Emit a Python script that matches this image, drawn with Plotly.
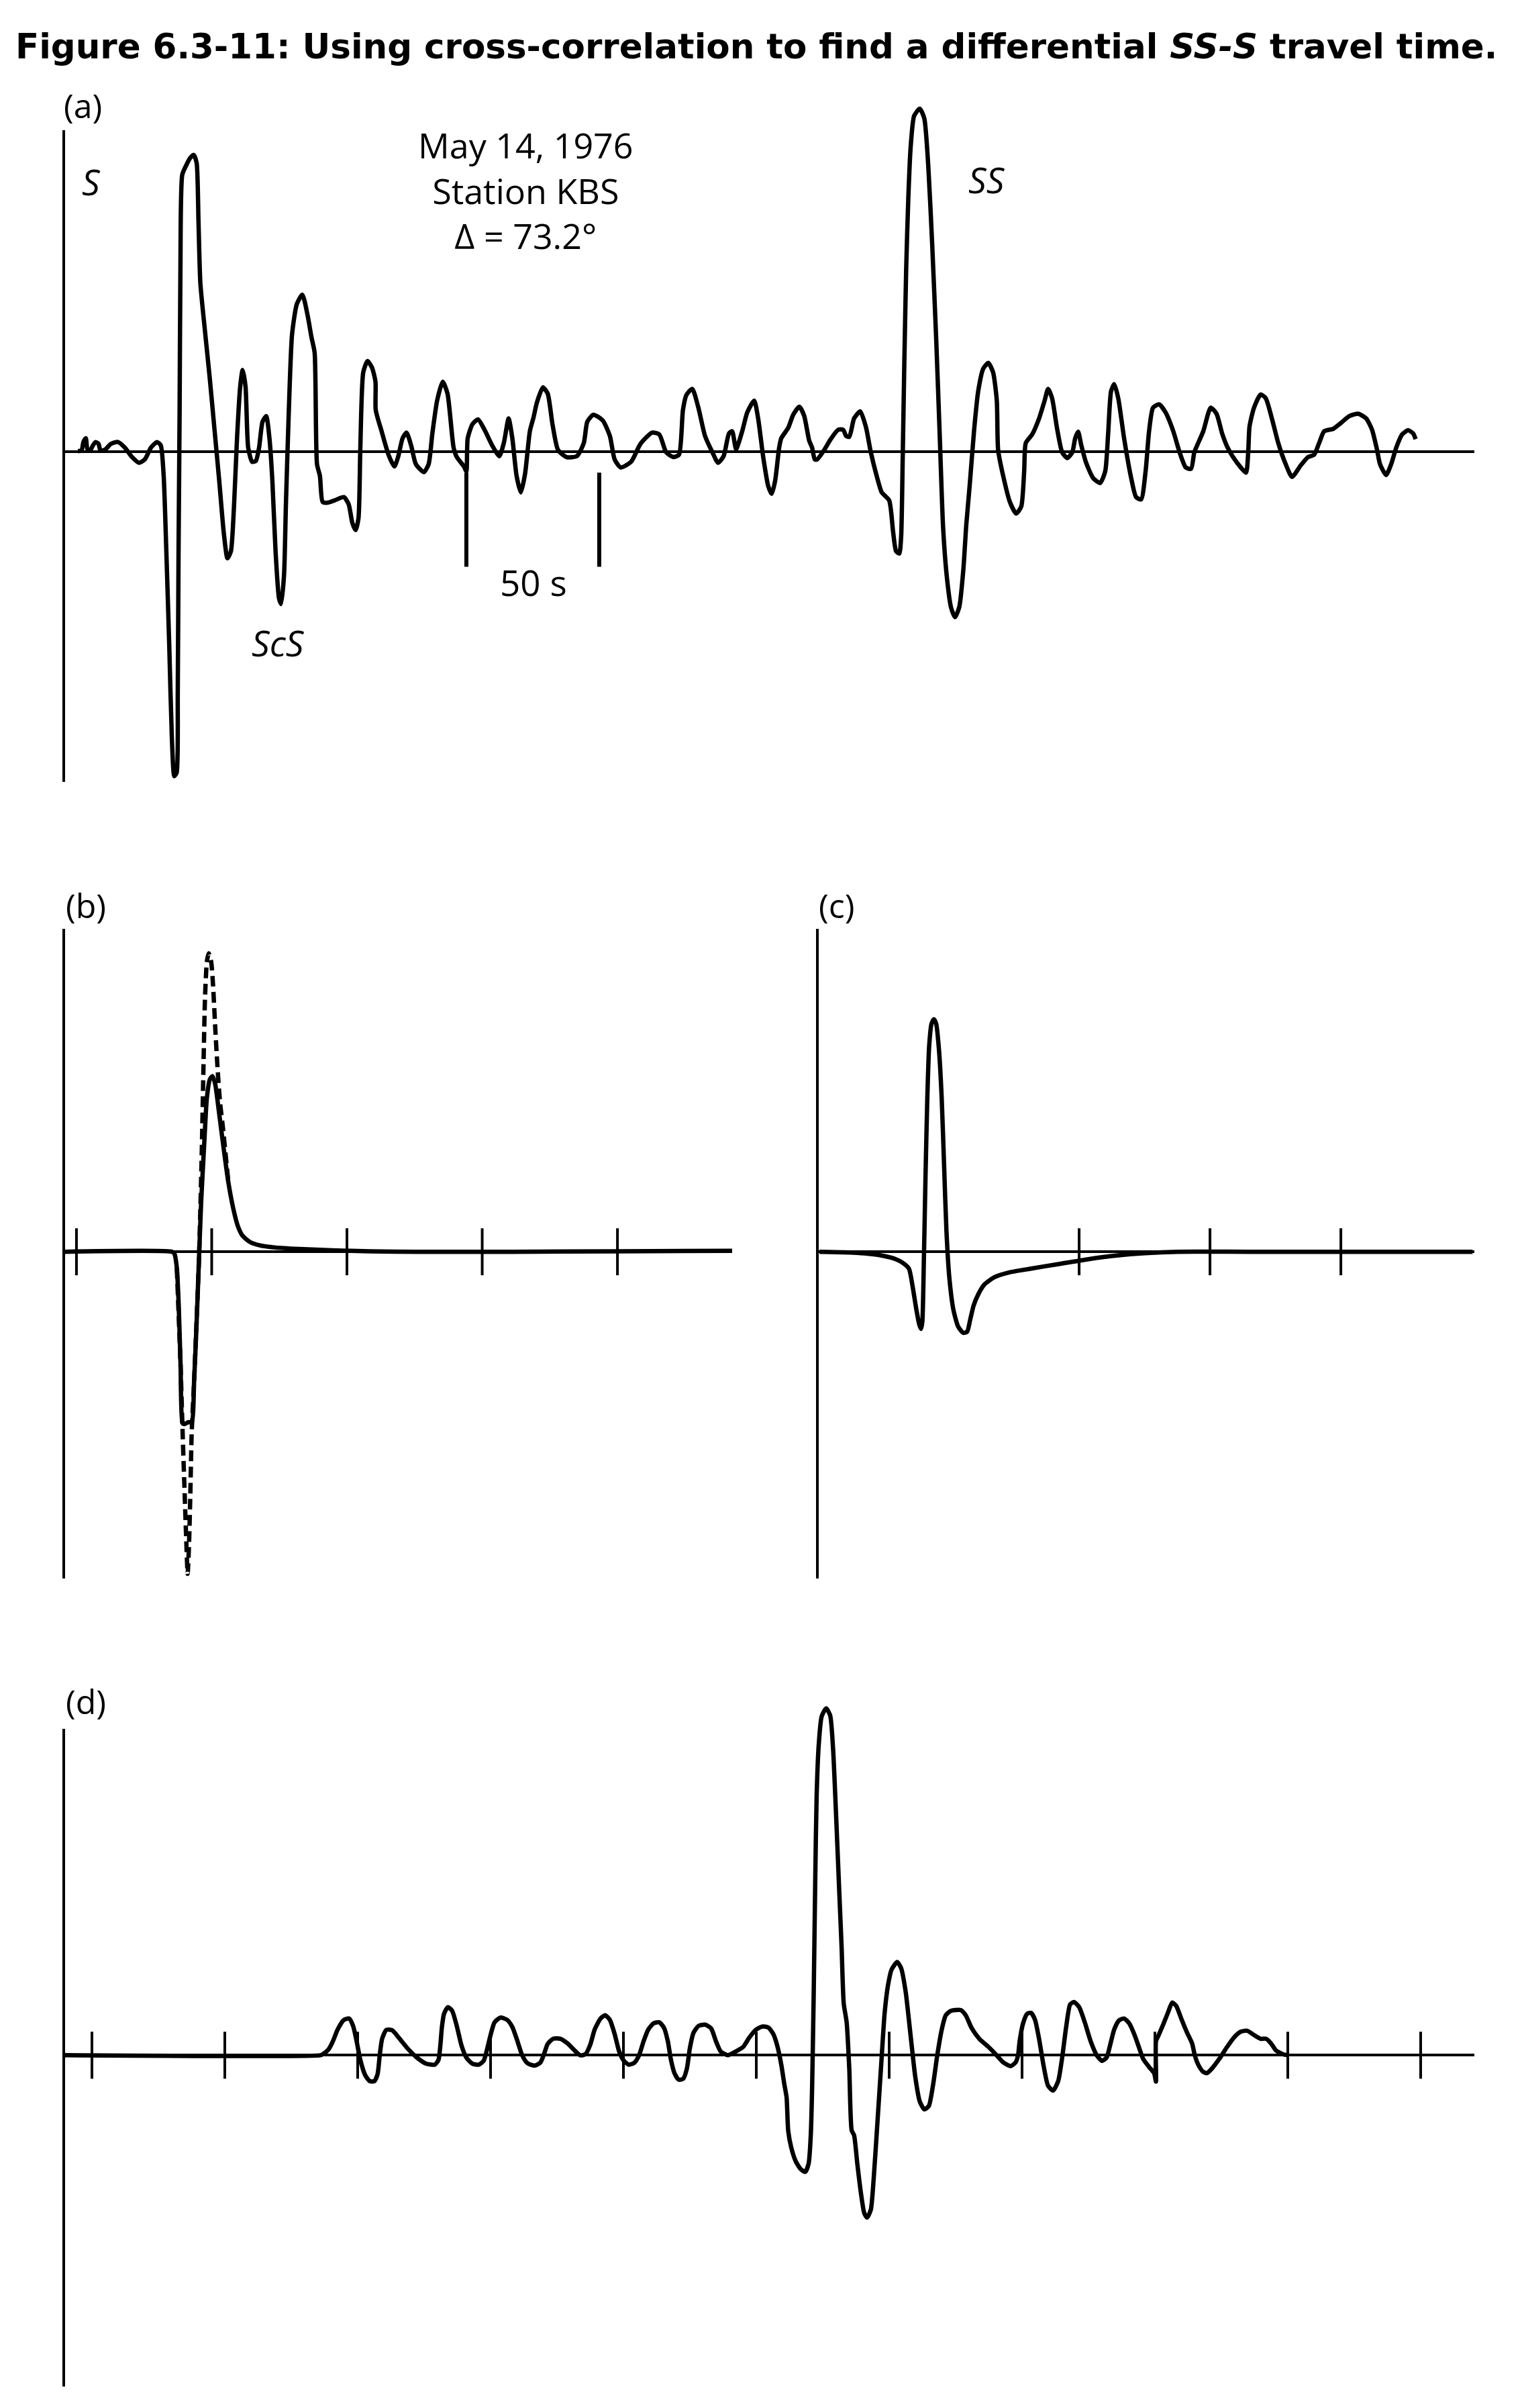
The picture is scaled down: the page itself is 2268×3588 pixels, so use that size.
import plotly.graph_objects as go

W, H = 2268, 3588

# ---------------- data (time in s, amplitude in arbitrary units) ----------------
# (a) transverse seismogram, S ... SS
a_time = [5.3, 6.7, 7.4, 8.3, 8.9, 9.9, 11.0, 12.0, 13.1, 13.8,
          15.6, 17.7, 20.4, 23.0, 25.7, 28.3, 30.5, 32.8, 35.1, 36.5,
          37.6, 38.6, 39.7, 40.7, 41.6, 42.5, 42.9, 43.2, 43.6, 43.9,
          44.6, 46.1, 47.5, 48.9, 50.0, 50.7, 51.4, 53.1, 54.9, 56.7,
          58.5, 60.2, 61.6, 62.9, 64.1, 65.2, 66.4, 67.3, 68.4, 69.4,
          70.9, 72.3, 73.5, 74.8, 76.2, 77.4, 78.5, 79.7, 81.0, 81.8,
          82.9, 83.6, 84.7, 85.9, 87.7, 89.8, 91.8, 93.2, 94.4, 95.3,
          96.4, 97.4, 99.2, 101.9, 105.4, 107.2, 108.6, 109.8, 110.9, 111.6,
          112.7, 114.3, 116.0, 117.3, 117.4, 119.6, 122.2, 124.4, 125.8, 127.5,
          129.0, 130.7, 132.5, 135.5, 137.3, 138.7, 140.5, 142.6, 144.4, 146.7,
          147.9, 150.6, 151.5, 152.0, 153.8, 155.9, 158.6, 161.2, 163.9, 165.6,
          167.4, 168.8, 170.4, 172.0, 173.6, 175.4, 176.8, 178.0, 180.3, 182.1,
          183.9, 186.0, 189.2, 193.1, 195.7, 197.0, 199.3, 202.8, 205.5, 207.3,
          209.6, 213.5, 217.0, 221.4, 224.1, 226.7, 229.4, 231.5, 233.0, 234.3,
          236.5, 238.8, 241.3, 244.1, 246.2, 248.3, 250.3, 251.5, 253.0,
          255.3, 257.2, 259.8, 261.3, 263.2, 265.1, 266.4, 267.7, 269.2, 270.0,
          272.6, 274.5, 276.8, 278.6, 280.5, 281.6, 282.6, 283.5, 285.8, 288.6,
          291.4, 293.3, 294.4, 295.6, 297.4, 299.7, 301.8, 303.7, 305.9, 307.8,
          310.6, 312.1, 313.2, 314.4, 315.1, 315.7, 316.3, 317.0, 317.8, 318.7,
          320.0, 322.1, 323.8, 325.3, 326.8, 328.3, 329.6, 330.9, 332.4, 333.9,
          335.4, 337.0, 338.5, 339.6, 340.9, 342.6, 344.1, 346.0, 347.9, 349.7,
          351.1, 351.6, 353.5, 356.0, 358.4, 360.3, 361.4, 362.0, 364.4, 367.0,
          369.1, 370.4, 371.9, 373.8, 375.7, 377.6, 379.5, 380.6, 381.7, 382.9,
          384.7, 387.4, 390.0, 391.9, 393.0, 394.1, 395.3, 396.8, 399.0, 401.5,
          403.5, 405.4, 407.1, 408.4, 409.9, 412.2, 414.6, 417.5, 419.9, 422.2,
          424.2, 425.4, 426.5, 428.8, 431.6, 433.8, 435.9, 437.8, 440.0, 442.9,
          444.9, 445.7, 446.2, 447.9, 450.4, 452.3, 454.7, 457.0, 459.8, 462.2,
          465.4, 468.2, 470.5, 472.4, 474.3, 477.7, 480.5, 483.7, 487.1, 490.1,
          492.3, 494.2, 495.3, 497.6, 499.5, 501.4, 503.6, 505.9, 507.8, 508.7]
a_amp = [0.01, 0.02, 0.20, 0.28, 0.05, 0.02, 0.13, 0.20, 0.16, 0.02,
         0.04, 0.16, 0.20, 0.08, -0.12, -0.24, -0.17, 0.08, 0.20, 0.13,
         -0.52, -2.12, -4.12, -6.12, -6.90, -6.82, -5.12, -2.12, 0.88, 3.88,
         5.88, 6.08, 6.23, 6.30, 6.13, 4.88, 3.58, 2.58, 1.58, 0.48,
         -0.62, -1.72, -2.27, -2.12, -1.12, 0.28, 1.38, 1.73, 1.38, 0.08,
         -0.22, -0.20, 0.08, 0.63, 0.75, 0.28, -0.62, -2.12, -3.12, -3.24,
         -2.62, -1.12, 0.88, 2.48, 3.13, 3.33, 2.88, 2.43, 2.10, -0.27,
         -0.52, -1.07, -1.09, -1.04, -0.97, -1.12, -1.52, -1.67, -1.42, 0.08,
         1.68, 1.92, 1.78, 1.48, 0.88, 0.43, -0.07, -0.32, -0.12, 0.28,
         0.40, 0.13, -0.27, -0.44, -0.27, 0.38, 1.08, 1.48, 1.23, 0.08,
         -0.12, -0.32, -0.42, 0.28, 0.58, 0.68, 0.43, 0.13, -0.10, 0.18,
         0.70, 0.28, -0.52, -0.87, -0.47, 0.43, 0.73, 1.03, 1.36, 1.23,
         0.58, 0.03, -0.12, -0.10, 0.18, 0.63, 0.78, 0.66, 0.33, -0.17,
         -0.34, -0.22, 0.16, 0.40, 0.36, -0.02, -0.12, -0.07, 0.88, 1.20,
         1.33, 0.93, 0.33, -0.02, -0.24, -0.10, 0.38, 0.43, 0.05,
         0.43, 0.83, 1.08, 0.70, -0.12, -0.74, -0.90, -0.62, 0.08, 0.28,
         0.50, 0.78, 0.95, 0.76, 0.23, 0.08, -0.17, -0.17, 0.00, 0.26,
         0.46, 0.46, 0.33, 0.31, 0.70, 0.85, 0.53, -0.02, -0.52, -0.87,
         -1.04, -1.72, -2.12, -2.17, -1.82, -0.12, 1.88, 3.88, 5.38, 6.48,
         7.13, 7.28, 7.08, 6.08, 4.38, 2.38, 0.38, -1.62, -2.72, -3.32,
         -3.52, -3.30, -2.52, -1.57, -0.72, 0.48, 1.28, 1.76, 1.88, 1.68,
         1.08, 0.03, -0.52, -1.07, -1.32, -1.17, -0.42, 0.18, 0.36, 0.70,
         1.08, 1.33, 1.13, 0.48, -0.02, -0.14, -0.02, 0.28, 0.42, 0.13,
         -0.24, -0.57, -0.67, -0.42, 0.38, 1.28, 1.43, 1.13, 0.28, -0.52,
         -0.97, -1.02, -0.42, 0.43, 0.93, 1.00, 0.83, 0.43, -0.02, -0.34,
         -0.37, -0.02, 0.13, 0.43, 0.93, 0.80, 0.38, 0.10, -0.12, -0.34,
         -0.45, -0.02, 0.53, 0.93, 1.21, 1.13, 0.68, 0.18, -0.27, -0.54,
         -0.30, -0.12, -0.07, 0.18, 0.43, 0.48, 0.60, 0.75, 0.80, 0.70,
         0.46, 0.03, -0.27, -0.50, -0.27, 0.08, 0.36, 0.45, 0.38, 0.26]
a_scale_bar_time = [151.5, 201.5]          # 50 s apart
a_scale_bar_amp = [-0.45, -2.45]

# (b) S wavelet (dashed) and its processed version (solid)
b_solid_time = [-4.7, 35.3, 36.2, 37.1, 37.8, 38.5, 39.2, 39.9, 41.3, 42.6,
                43.5, 44.4, 45.3, 46.1, 47.2, 48.2, 49.3, 50.3, 51.3, 52.7,
                54.5, 56.2, 58.0, 59.7, 61.4, 64.1, 67.5, 73.6, 82.3, 94.5,
                108.4, 125.9, 160.7, 200.7, 242.5]
b_solid_amp = [0.0, 0.0, -0.04, -0.34, -1.14, -2.44, -3.64, -3.66, -3.62, -3.62,
               -2.74, -1.54, -0.14, 1.06, 2.26, 3.26, 3.66, 3.73, 3.56, 2.96,
               2.16, 1.46, 0.91, 0.54, 0.34, 0.21, 0.14, 0.09, 0.06, 0.03,
               0.01, 0.0, 0.0, 0.01, 0.02]
b_dashed_time = [37.1, 38.5, 39.3, 40.0, 40.6, 41.1, 41.6, 42.1, 42.6, 43.5,
                 45.3, 46.3, 47.0, 47.5, 48.2, 48.9, 49.8, 50.5, 51.3, 52.2,
                 53.1, 54.1, 54.8, 56.2]
b_dashed_amp = [-0.34, -2.44, -3.94, -5.14, -6.14, -6.84, -6.24, -5.14, -3.84, -2.74,
                -0.14, 2.06, 4.06, 5.36, 6.16, 6.34, 6.16, 5.66, 4.76, 3.86,
                3.16, 2.66, 2.26, 1.46]
b_ticks = [0, 50, 100, 150, 200]

# (c)
c_time = [0.8, 10.0, 19.1, 25.5, 30.1, 32.8, 35.0, 36.4, 37.7, 38.9,
          39.6, 40.1, 40.7, 41.3, 42.0, 42.7, 43.6, 44.5, 45.4, 46.5,
          47.5, 48.4, 49.3, 50.4, 52.0, 53.8, 55.7, 57.2, 58.4, 59.7,
          61.6, 63.9, 67.6, 73.1, 81.3, 92.2, 103.2, 114.3, 125.2, 137.7,
          165.1, 250.3]
c_amp = [0.0, -0.01, -0.04, -0.09, -0.16, -0.24, -0.36, -0.74, -1.19, -1.54,
         -1.64, -1.49, -0.14, 1.56, 3.26, 4.36, 4.84, 4.94, 4.84, 4.26,
         3.26, 1.86, 0.46, -0.54, -1.24, -1.59, -1.72, -1.70, -1.44, -1.14,
         -0.89, -0.69, -0.54, -0.44, -0.36, -0.26, -0.16, -0.08, -0.03, 0.0,
         0.0, 0.0]
c_ticks = [100, 150, 200]

# (d) cross-correlation
d_time = [-10.6, 85.9, 86.8, 89.0, 90.7, 92.5, 94.8, 96.8, 98.3, 99.6,
          101.0, 102.8, 104.5, 106.3, 107.5, 108.3, 109.2, 110.8, 113.0, 115.5,
          118.7, 122.3, 125.8, 129.0, 130.4, 131.1, 131.7, 132.5, 133.9, 135.5,
          137.3, 139.1, 140.9, 143.2, 145.6, 147.4, 148.8, 150.1, 151.5, 153.8,
          156.3, 158.2, 160.0, 161.9, 163.9, 166.6, 168.7, 170.1, 171.5, 173.6,
          176.3, 179.0, 181.3, 183.7, 185.7, 187.5, 189.2, 191.4, 193.1, 194.9,
          196.7, 198.4, 200.2, 202.0, 204.1, 205.9, 207.6, 209.4, 211.4, 213.5,
          215.3, 216.7, 217.9, 219.2, 220.8, 222.5, 223.9, 225.0, 226.4, 228.2,
          230.7, 233.0, 234.8, 236.6, 239.2, 241.3,
          245.1, 247.3, 249.8, 252.2, 254.5, 256.4, 257.9, 259.4, 260.5, 261.4,
          262.0, 263.1, 264.8, 266.7, 268.4, 269.7, 270.5, 271.0, 271.6, 272.2,
          272.7, 273.5, 274.6, 276.3, 277.8, 278.9, 280.1, 281.2, 282.1, 282.9,
          284.0, 285.0, 285.9, 286.8, 288.0, 289.3, 290.6, 291.7, 293.1, 294.2,
          295.5, 297.0, 298.3, 299.6, 300.9, 303.0, 304.5, 306.2, 308.1, 309.8,
          311.5, 313.2, 314.9, 316.6, 318.1, 319.8, 321.3, 323.1, 326.9, 328.8,
          331.0, 333.9, 337.3, 340.1, 342.9, 345.7, 347.6, 348.5, 349.1, 350.4,
          351.9, 353.4, 354.9, 356.4, 358.1, 359.8, 361.7, 363.6, 365.1, 366.6,
          368.1, 369.6, 371.5, 373.6, 375.8, 378.1, 380.1, 381.8, 383.3, 384.7,
          386.5, 388.4, 390.3, 392.2, 394.1, 395.6, 397.8, 399.7, 400.4, 400.4,
          401.2, 403.1, 405.0, 406.5, 408.0, 409.9, 412.1, 414.0, 415.0, 416.3,
          418.1, 419.6, 421.5, 424.2, 427.2, 429.8, 432.3, 434.7, 437.3, 439.8,
          441.8, 443.7, 445.6, 448.2, 450.1]
d_amp = [0.0, 0.0, 0.02, 0.12, 0.30, 0.55, 0.75, 0.78, 0.62, 0.30,
         -0.10, -0.42, -0.55, -0.55, -0.40, 0.00, 0.35, 0.54, 0.53, 0.37,
         0.15, -0.05, -0.18, -0.20, -0.10, 0.20, 0.60, 0.88, 1.02, 0.95,
         0.62, 0.20, -0.05, -0.18, -0.20, -0.12, 0.15, 0.45, 0.70, 0.80,
         0.75, 0.60, 0.32, 0.00, -0.17, -0.22, -0.16, 0.02, 0.24, 0.35,
         0.35, 0.25, 0.12, 0.00, 0.02, 0.22, 0.55, 0.78, 0.85, 0.75,
         0.45, 0.08, -0.12, -0.20, -0.16, 0.00, 0.30, 0.55, 0.68, 0.70,
         0.58, 0.30, -0.10, -0.38, -0.52, -0.50, -0.28, 0.15, 0.48, 0.62,
         0.65, 0.57, 0.30, 0.08, 0.00, 0.05,
         0.18, 0.37, 0.54, 0.61, 0.59, 0.45, 0.20, -0.20, -0.60, -0.90,
         -1.60, -1.95, -2.25, -2.42, -2.48, -2.30, -1.70, -0.70, 1.30, 3.80,
         5.50, 6.60, 7.20, 7.37, 7.22, 6.50, 5.00, 3.50, 2.30, 1.10,
         0.70, -0.30, -1.60, -1.70, -2.30, -2.90, -3.35, -3.45, -3.28, -2.60,
         -1.50, -0.20, 0.90, 1.50, 1.82, 1.98, 1.85, 1.35, 0.40, -0.45,
         -0.98, -1.15, -1.08, -0.60, 0.00, 0.55, 0.85, 0.94, 0.96, 0.85,
         0.58, 0.35, 0.18, 0.02, -0.15, -0.23, -0.15, 0.00, 0.30, 0.68,
         0.88, 0.90, 0.75, 0.35, -0.22, -0.65, -0.75, -0.55, -0.05, 0.60,
         1.08, 1.13, 1.02, 0.70, 0.30, 0.00, -0.12, -0.05, 0.25, 0.55,
         0.74, 0.78, 0.68, 0.45, 0.15, -0.08, -0.25, -0.38, -0.56, 0.30,
         0.40, 0.65, 0.92, 1.12, 1.05, 0.78, 0.48, 0.25, 0.00, -0.20,
         -0.35, -0.38, -0.28, -0.08, 0.18, 0.38, 0.50, 0.52, 0.43, 0.35,
         0.35, 0.25, 0.10, 0.02, 0.00]
d_ticks = [0, 50, 100, 150, 200, 250, 300, 350, 400, 450, 500]

# ---------------- layout helpers (pixel positions of the panels) ----------------
def fx(p):
    return p / W


def fy(p):
    return 1 - p / H


panels = [
    # axis suffix, x pixel span, plot-area y pixel span, drawn vertical axis span, x range, y range
    ("", (95, 2197), (120, 1165), (194, 1165), (0, 530.8), (-7.02, 7.88)),
    ("2", (95, 1091), (1384, 2352), (1384, 2352), (-4.7, 242.4), (-6.94, 6.86)),
    ("3", (1218, 2197), (1384, 2352), (1384, 2352), (0, 251.0), (-6.94, 6.86)),
    ("4", (95, 2197), (2500, 3556), (2576, 3556), (-10.6, 520.2), (-7.04, 8.02)),
]

fig = go.Figure()

TRACE_W = 6.5
AX_W = 4


def n(a, b):
    m = min(len(a), len(b))
    return a[:m], b[:m]


line_style = dict(color="black", width=TRACE_W, shape="spline", smoothing=0.6)

# (a)
x, y = n(a_time, a_amp)
fig.add_trace(go.Scatter(x=x, y=y, mode="lines", line=line_style, xaxis="x", yaxis="y"))
bx, by = [], []
for t in a_scale_bar_time:
    bx += [t, t, None]
    by += [a_scale_bar_amp[0], a_scale_bar_amp[1], None]
fig.add_trace(go.Scatter(x=bx, y=by, mode="lines", line=dict(color="black", width=6),
                         xaxis="x", yaxis="y"))

# (b)
x, y = n(b_dashed_time, b_dashed_amp)
fig.add_trace(go.Scatter(x=x, y=y, mode="lines",
                         line=dict(color="black", width=6.5, dash="16px,8px", shape="spline", smoothing=0.6),
                         xaxis="x2", yaxis="y2"))
x, y = n(b_solid_time, b_solid_amp)
fig.add_trace(go.Scatter(x=x, y=y, mode="lines", line=line_style, xaxis="x2", yaxis="y2"))

# (c)
x, y = n(c_time, c_amp)
fig.add_trace(go.Scatter(x=x, y=y, mode="lines", line=line_style, xaxis="x3", yaxis="y3"))

# (d)
x, y = n(d_time, d_amp)
fig.add_trace(go.Scatter(x=x, y=y, mode="lines", line=line_style, xaxis="x4", yaxis="y4"))

# tick marks crossing the baseline
tick_marker = dict(symbol="line-ns-open", size=50, color="black", line=dict(color="black", width=4))
for ticks, ax in ((b_ticks, "2"), (c_ticks, "3"), (d_ticks, "4")):
    fig.add_trace(go.Scatter(x=ticks, y=[0] * len(ticks), mode="markers", marker=tick_marker,
                             xaxis="x" + ax, yaxis="y" + ax))

layout = dict(
    width=W, height=H, margin=dict(l=0, r=0, t=0, b=0, pad=0),
    paper_bgcolor="white", plot_bgcolor="white", showlegend=False,
)
shapes = []
for name, xs, ys, axspan, xr, yr in panels:
    layout["xaxis" + name] = dict(
        domain=[fx(xs[0]), fx(xs[1])], range=list(xr), anchor="y" + name,
        showline=False, showgrid=False, zeroline=False, showticklabels=False, ticks="",
        fixedrange=True,
    )
    layout["yaxis" + name] = dict(
        domain=[fy(ys[1]), fy(ys[0])], range=list(yr), anchor="x" + name,
        showline=False, showgrid=False, zeroline=True, zerolinewidth=AX_W, zerolinecolor="black",
        showticklabels=False, ticks="", fixedrange=True,
    )
    # vertical amplitude axis line
    shapes.append(dict(type="line", xref="paper", yref="paper",
                       x0=fx(xs[0]), x1=fx(xs[0]), y0=fy(axspan[1]), y1=fy(axspan[0]),
                       line=dict(color="black", width=AX_W), layer="below"))
layout["shapes"] = shapes
fig.update_layout(**layout)

TXT = dict(family="Open Sans, Noto Sans, sans-serif", size=52, color="black")


def label(text, px, py, size=52, family=None, xanchor="center"):
    f = dict(TXT)
    f["size"] = size
    if family:
        f["family"] = family
    fig.add_annotation(text=text, x=fx(px), y=fy(py), xref="paper", yref="paper",
                       showarrow=False, xanchor=xanchor, yanchor="middle", font=f)


label("<b>Figure 6.3-11: Using cross-correlation to find a differential <i>SS-S</i> travel time.</b>",
      1127, 69, size=51.5, family="DejaVu Sans, sans-serif")
label("(a)", 123, 157, size=50)
label("(b)", 128, 1349, size=50)
label("(c)", 1246, 1349, size=50)
label("(d)", 128, 2535, size=50)
label("May 14, 1976<br>Station KBS<br>Δ = 73.2°", 783, 283, size=52)
label("<i>S</i>", 136, 271, size=53)
label("<i>SS</i>", 1470, 267, size=53)
label("<i>ScS</i>", 414, 957, size=53)
label("50 s", 795, 867, size=53)

fig.write_html("out.html", config={"displayModeBar": False},
               post_script="document.body.style.margin='0px';")
